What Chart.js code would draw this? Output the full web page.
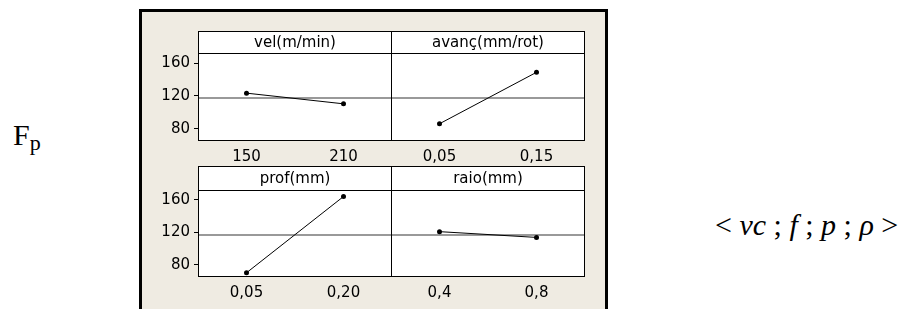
<!DOCTYPE html>
<html lang="pt">
<head>
<meta charset="UTF-8" />
<title>Fp - efeitos principais</title>
<script src="https://cdn.jsdelivr.net/npm/chart.js"></script>
<style>
  body {
    margin: 0;
    width: 921px;
    height: 309px;
    overflow: hidden;
    position: relative;
    background: #ffffff;
    font-family: "DejaVu Sans", sans-serif;
  }
  /* beige figure region like Minitab */
  .frame {
    position: absolute;
    left: 139px;
    top: 9px;
    width: 463px;
    height: 320px;
    background: #efebe2;
    border: 3px solid #000;
    border-bottom: none;
  }
  canvas { position: absolute; }
  .serif {
    position: absolute;
    font-family: "Liberation Serif", "Times New Roman", serif;
    line-height: 1;
    color: #000;
    white-space: nowrap;
  }
  #fp { left: 13px; top: 120px; font-size: 30px; }
  #fp sub { font-size: 22px; vertical-align: -5px; line-height: 0; }
  #formula { left: 715px; top: 210px; font-size: 30px; }
</style>
</head>
<body>
<div class="frame"></div>
<div class="serif" id="fp">F<sub>p</sub></div>
<div class="serif" id="formula">&lt; <i>vc</i> ; <i>f</i> ; <i>p</i> ; <i>&rho;</i> &gt;</div>

<canvas id="c-vel" width="243" height="136" style="left:150px;top:31px"></canvas>
<canvas id="c-avanc" width="196" height="136" style="left:391px;top:31px"></canvas>
<canvas id="c-prof" width="243" height="137" style="left:150px;top:166px"></canvas>
<canvas id="c-raio" width="196" height="137" style="left:391px;top:166px"></canvas>

<script>
  // main effects of each factor on Fp (means per level)
  const velLevels = ["150", "210"];
  const velMeans = [123.3, 110.3];
  const avancLevels = ["0,05", "0,15"];
  const avancMeans = [86.0, 148.7];
  const profLevels = ["0,05", "0,20"];
  const profMeans = [70.2, 164.2];
  const raioLevels = ["0,4", "0,8"];
  const raioMeans = [120.9, 113.8];
  const grandMean = 117.3;
  const yTicks = [80, 120, 160];
  const panelTitles = ["vel(m/min)", "avanç(mm/rot)", "prof(mm)", "raio(mm)"];

  const FONT = { family: "DejaVu Sans", size: 15 };

  // white panel, grand-mean line, frame and title strip
  const panelFrame = {
    id: "panelFrame",
    beforeDraw(chart, args, opts) {
      const { ctx, chartArea: a } = chart;
      ctx.save();
      ctx.fillStyle = "#fff";
      ctx.fillRect(a.left, a.top - opts.strip, a.right - a.left, a.bottom - a.top + opts.strip);
      ctx.restore();
    },
    beforeDatasetsDraw(chart) {
      const { ctx, chartArea: a, scales } = chart;
      const y = Math.round(scales.y.getPixelForValue(grandMean));
      ctx.save();
      ctx.strokeStyle = "#999";
      ctx.lineWidth = 2;
      ctx.beginPath();
      ctx.moveTo(a.left, y);
      ctx.lineTo(a.right, y);
      ctx.stroke();
      ctx.restore();
    },
    afterDraw(chart, args, opts) {
      const { ctx, chartArea: a } = chart;
      const l = Math.round(a.left) + 0.5, r = Math.round(a.right) - 0.5;
      const t = Math.round(a.top) - 0.5, b = Math.round(a.bottom) - 0.5;
      const st = t - opts.strip;
      ctx.save();
      ctx.strokeStyle = "#000";
      ctx.lineWidth = 1;
      ctx.strokeRect(l, st, r - l, b - st);
      ctx.beginPath();
      ctx.moveTo(l, t);
      ctx.lineTo(r, t);
      ctx.stroke();
      ctx.fillStyle = "#000";
      ctx.font = FONT.size + "px " + FONT.family;
      ctx.textAlign = "center";
      ctx.textBaseline = "middle";
      ctx.fillText(opts.title, (l + r) / 2, st + opts.strip / 2 + 1);
      ctx.restore();
    },
  };

  function makePanel(id, title, labels, values, showY, strip) {
    const y = {
      display: showY,
      min: 65,
      max: 171,
      afterBuildTicks: (s) => { s.ticks = yTicks.map((v) => ({ value: v })); },
      grid: { drawOnChartArea: false, color: "#000", tickLength: 4 },
      border: { display: false },
      ticks: { font: FONT, color: "#000", padding: 4 },
    };
    if (showY) y.afterFit = (s) => { s.width = 48; };

    new Chart(document.getElementById(id), {
      type: "line",
      data: {
        labels,
        datasets: [{
          data: values,
          borderColor: "#000",
          borderWidth: 1,
          pointRadius: 2.5,
          pointBackgroundColor: "#000",
          pointBorderWidth: 0,
        }],
      },
      options: {
        responsive: false,
        animation: false,
        devicePixelRatio: 1,
        layout: {
          autoPadding: false,
          padding: { top: strip + 1, left: 0, right: showY ? 1 : 2, bottom: 0 },
        },
        plugins: {
          legend: { display: false },
          tooltip: { enabled: false },
          panelFrame: { title, strip },
        },
        scales: {
          x: {
            offset: true,
            grid: { display: false, drawTicks: false },
            border: { display: false },
            ticks: { font: FONT, color: "#000", padding: 7 },
            afterFit: (s) => { s.height = 26; },
          },
          y,
        },
      },
      plugins: [panelFrame],
    });
  }

  makePanel("c-vel", panelTitles[0], velLevels, velMeans, true, 22);
  makePanel("c-avanc", panelTitles[1], avancLevels, avancMeans, false, 22);
  makePanel("c-prof", panelTitles[2], profLevels, profMeans, true, 24);
  makePanel("c-raio", panelTitles[3], raioLevels, raioMeans, false, 24);
</script>
</body>
</html>
